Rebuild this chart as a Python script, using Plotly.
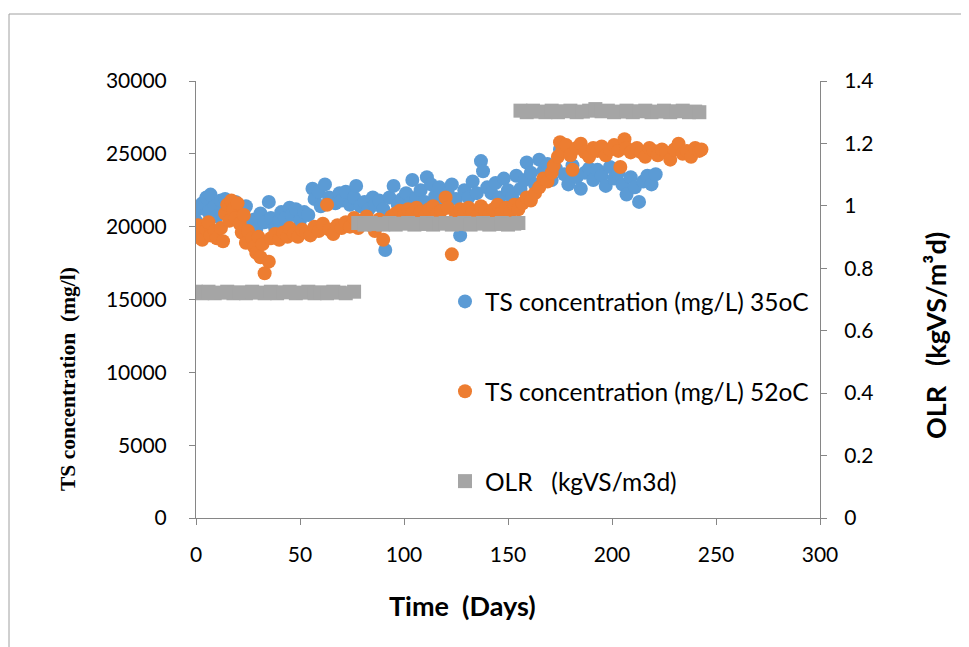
import plotly.graph_objects as go

# ---- data ----
blue_days = [0, 1, 2, 3, 5, 6, 7, 9, 10, 12, 14, 15, 17, 19, 20, 22, 24, 25, 26, 28, 29, 31, 33, 35, 36, 38,
             40, 41, 43, 45, 46, 48, 50, 52, 54, 56, 57, 59, 60, 62, 64, 65, 67, 69, 70, 72, 74, 76, 77, 79,
             81, 83, 85, 86, 88, 90, 91, 93, 95, 97, 99, 101, 103, 104, 106, 108, 110, 111, 113, 115, 117,
             119, 121, 123, 125, 127, 129, 131, 133, 135, 137, 138, 140, 142, 144, 146, 148, 150, 152, 154,
             156, 158, 159, 161, 163, 165, 167, 169, 171, 173, 175, 177, 179, 181, 183, 185, 187, 189, 191,
             193, 195, 197, 199, 201, 203, 205, 207, 209, 211, 213, 215, 217, 219, 221]
blue_ts = [20400, 21200, 20100, 21600, 22000, 21000, 22200, 21400, 20700, 21800, 21900, 21100, 20900, 21700,
           21300, 20800, 21400, 20200, 19700, 20500, 19800, 20900, 20300, 21700, 20600, 19900, 20400, 21000,
           20600, 21300, 20800, 21200, 20400, 21000, 20800, 22600, 21900, 22400, 21400, 22900, 22000, 21700,
           21600, 22300, 21800, 22400, 21500, 22000, 22800, 21400, 21700, 21200, 22000, 21500, 21800, 21200,
           18400, 22000, 22800, 21500, 21900, 22300, 21600, 23200, 22000, 22500, 21700, 23400, 22900, 22100,
           22700, 21600, 22300, 22900, 21900, 19400, 22500, 22000, 23100, 22300, 24500, 23800, 22700, 22300,
           23000, 22000, 23300, 22500, 22000, 23500, 22600, 23200, 24400, 23700, 22900, 24600, 23800, 24300,
           23200, 24000, 25300, 23600, 22900, 24200, 23400, 22600, 23700, 24000, 23200, 23900, 23500, 22800,
           24100, 23300, 23700, 22900, 22200, 23400, 22700, 21700, 23100, 23500, 22900, 23600]

orange_days = [0, 1, 2, 3, 5, 6, 7, 9, 10, 12, 13, 14, 15, 16, 17, 18, 19, 20, 21, 22, 23, 24, 25, 27, 28, 29,
               30, 31, 32, 33, 35, 36, 38, 40, 42, 44, 45, 47, 49, 51, 53, 55, 57, 59, 61, 63, 64, 66, 68, 70,
               72, 74, 76, 78, 80, 82, 84, 86, 88, 90, 92, 94, 96, 98, 100, 102, 104, 106, 108, 110, 112, 114,
               116, 118, 120, 121, 123, 125, 127, 129, 131, 133, 135, 137, 139, 141, 143, 145, 147, 149, 151,
               153, 155, 157, 159, 161, 163, 165, 167, 169, 171, 172, 174, 175, 176, 178, 180, 181, 183, 185,
               187, 189, 191, 193, 195, 197, 199, 201, 203, 204, 206, 207, 209, 212, 214, 216, 218, 220, 222,
               224, 226, 228, 230, 232, 234, 236, 238, 240, 242, 243]
orange_ts = [19300, 20100, 19500, 19100, 19800, 20300, 19400, 19700, 19200, 19900, 19000, 20900, 21500, 20400,
             21800, 21200, 20600, 21600, 20200, 19600, 20800, 18900, 19700, 19200, 18600, 18200, 19300, 17900,
             18800, 16800, 17600, 19200, 19500, 19100, 19600, 19300, 19900, 19500, 19300, 19800, 19600, 19400,
             20000, 19700, 20200, 21500, 19800, 19500, 20100, 19900, 20300, 20000, 20600, 19900, 20400, 20700,
             20100, 19700, 20500, 19100, 20300, 20700, 20900, 21100, 20800, 21200, 20900, 21300, 21000, 20700,
             21200, 21400, 20900, 21100, 22000, 21300, 18100, 20800, 21200, 20900, 21300, 21000, 20700, 21400,
             21100, 20800, 21200, 21500, 21000, 21300, 21000, 21500, 21200, 21600, 22000, 21800, 22300, 22700,
             23300, 23100, 23700, 24200, 24800, 25800, 25200, 25600, 24900, 23900, 25400, 25700, 25100, 24800,
             25400, 25200, 25500, 24900, 25300, 25600, 25200, 24100, 26000, 25400, 25100, 25400, 25100, 24800,
             25400, 25200, 24900, 25300, 25100, 24600, 25300, 25700, 25000, 25200, 24800, 25400, 25200, 25300]

olr_days = [0, 3, 6, 9, 12, 15, 18, 21, 24, 27, 30, 33, 36, 39, 42, 45, 48, 51, 54, 57, 60, 63, 66, 69, 72, 76,
            78, 81, 84, 87, 90, 93, 96, 99, 102, 105, 108, 111, 114, 117, 120, 123, 126, 129, 132, 135, 138,
            141, 144, 147, 150, 153, 155,
            156, 159, 162, 165, 168, 171, 174, 177, 180, 183, 186, 189, 192, 195, 198, 201, 204, 207, 210,
            213, 216, 219, 222, 225, 228, 231, 234, 237, 240, 242]
olr_vals = [0.725, 0.72, 0.725, 0.72, 0.722, 0.725, 0.72, 0.723, 0.72, 0.725, 0.722, 0.72, 0.725, 0.72, 0.723,
            0.725, 0.72, 0.722, 0.725, 0.72, 0.723, 0.72, 0.725, 0.722, 0.72, 0.725,
            0.945, 0.94, 0.945, 0.942, 0.94, 0.945, 0.94, 0.943, 0.945, 0.94, 0.942, 0.945, 0.94, 0.943,
            0.945, 0.94, 0.942, 0.945, 0.94, 0.943, 0.945, 0.94, 0.942, 0.945, 0.94, 0.943, 0.945,
            1.305, 1.3, 1.305, 1.302, 1.3, 1.305, 1.3, 1.303, 1.305, 1.3, 1.302, 1.305, 1.31, 1.303, 1.305,
            1.3, 1.302, 1.305, 1.3, 1.303, 1.305, 1.3, 1.302, 1.305, 1.3, 1.303, 1.305, 1.3, 1.302, 1.3]

OFF = 8  # page body margin
W, H = 969 - OFF, 647 - OFF
# plot area in screenshot pixels
SL, SR, ST, SB = 196, 820, 81, 518
L, R, T, B = SL - OFF, SR - OFF, ST - OFF, SB - OFF


def px(x):  # screenshot x -> paper
    return (x - SL) / (SR - SL)


def py(y):  # screenshot y -> paper
    return (SB - y) / (SB - ST)


AXIS = "#868686"
SANS = "Lato, 'Open Sans', sans-serif"
TICKFONT = dict(family=SANS, size=21, color="#000000")

fig = go.Figure()
fig.add_trace(go.Scatter(x=blue_days, y=blue_ts, mode="markers", name="TS concentration (mg/L) 35oC",
                         legendgroup="a",
                         marker=dict(color="#5B9BD5", size=14, line=dict(width=0))))
fig.add_trace(go.Scatter(x=orange_days, y=orange_ts, mode="markers", name="TS concentration (mg/L) 52oC",
                         legendgroup="b",
                         marker=dict(color="#ED7D31", size=14, line=dict(width=0))))
fig.add_trace(go.Scatter(x=olr_days, y=olr_vals, mode="markers", name="OLR   (kgVS/m3d)", yaxis="y2",
                         legendgroup="c",
                         marker=dict(color="#A5A5A5", size=14, symbol="square", line=dict(width=0))))

fig.update_layout(
    width=W, height=H,
    margin=dict(l=L, r=W - R, t=T, b=H - B, pad=0),
    paper_bgcolor="white", plot_bgcolor="white",
    showlegend=True,
    legend=dict(x=px(445), y=py(279), xanchor="left", yanchor="top", bgcolor="rgba(0,0,0,0)",
                tracegroupgap=55, itemwidth=30,
                font=dict(family=SANS, size=24.5, color="#000000")),
    xaxis=dict(range=[0, 300], dtick=50, showgrid=False, zeroline=False, showline=True,
               linecolor=AXIS, linewidth=1, ticks="outside", ticklen=6, tickcolor=AXIS,
               tickfont=TICKFONT, ticklabelstandoff=12),
    yaxis=dict(range=[0, 30000], dtick=5000, tickformat="d", showgrid=False, zeroline=False,
               showline=True, linecolor=AXIS, linewidth=1, ticks="outside", ticklen=6,
               tickcolor=AXIS, tickfont=TICKFONT, ticklabelstandoff=18),
    yaxis2=dict(range=[0, 1.4], dtick=0.2, overlaying="y", side="right", showgrid=False,
                zeroline=False, showline=True, linecolor=AXIS, linewidth=1, ticks="outside",
                ticklen=6, tickcolor=AXIS, tickfont=TICKFONT, ticklabelstandoff=13),
    shapes=[
        dict(type="line", xref="paper", yref="paper", x0=px(9), x1=px(975), y0=py(14), y1=py(14),
             line=dict(color="#A0A0A0", width=1)),
        dict(type="line", xref="paper", yref="paper", x0=px(9), x1=px(9), y0=py(14), y1=py(660),
             line=dict(color="#A0A0A0", width=1)),
    ],
    annotations=[
        dict(text="<b>Time  (Days)</b>", xref="paper", yref="paper", x=px(462), y=py(605),
             showarrow=False, xanchor="center", yanchor="middle",
             font=dict(family=SANS, size=27, color="#000000")),
        dict(text="<b>TS concentration  (mg/l)</b>", xref="paper", yref="paper", x=px(68), y=py(379),
             showarrow=False, textangle=-90, xanchor="center", yanchor="middle",
             font=dict(family="'Liberation Serif', 'Times New Roman', serif", size=21.5, color="#000000")),
        dict(text="<b>OLR   (kgVS/m³d)</b>", xref="paper", yref="paper", x=px(935), y=py(336),
             showarrow=False, textangle=-90, xanchor="center", yanchor="middle",
             font=dict(family=SANS, size=27, color="#000000")),
    ],
)

fig.write_html("out.html")
